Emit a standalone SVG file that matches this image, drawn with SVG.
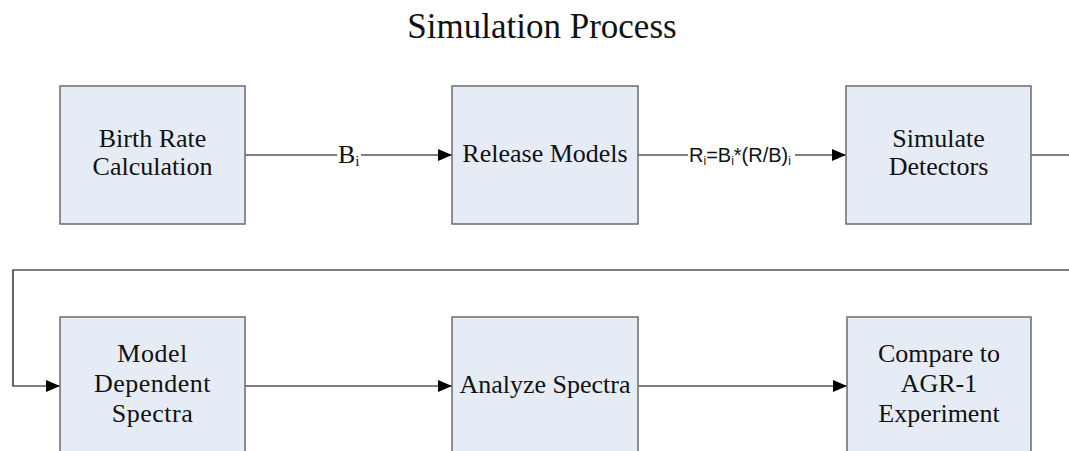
<svg xmlns="http://www.w3.org/2000/svg" width="1069" height="451" viewBox="0 0 1069 451">
<style>
.box{fill:#e6ecf6;stroke:#6b6b6b;stroke-width:1.5}
.t{font-family:"Liberation Serif","Times New Roman",serif;font-size:26px;fill:#111;text-anchor:middle}
.title{font-family:"Liberation Serif","Times New Roman",serif;font-size:35px;fill:#111;text-anchor:middle}
.lab{font-family:"Liberation Sans",Arial,sans-serif;font-size:20px;fill:#111}
.ln{fill:none;stroke:#000;stroke-width:1.2}
</style>
<defs>
<marker id="ah" markerWidth="14" markerHeight="12" refX="14" refY="6" orient="auto" markerUnits="userSpaceOnUse">
<path d="M0,0 L14,6 L0,12 Z" fill="#000"/>
</marker>
</defs>
<rect width="1069" height="451" fill="#fff"/>
<text class="title" x="542" y="38">Simulation Process</text>
<g id="connectors">
<path class="ln" d="M245,155 H452" marker-end="url(#ah)"/>
<path class="ln" d="M638,155 H846" marker-end="url(#ah)"/>
<path class="ln" d="M1031,155 H1080 V270 H13 V386 H60" marker-end="url(#ah)"/>
<path class="ln" d="M245,386 H452" marker-end="url(#ah)"/>
<path class="ln" d="M638,386 H847" marker-end="url(#ah)"/>
<rect x="337" y="144" width="24" height="22" fill="#fff"/>
<text x="338" y="163" font-family="Liberation Serif, serif" font-size="26" fill="#111">B<tspan font-size="15" dy="3">i</tspan></text>
<rect x="688" y="144" width="107" height="22" fill="#fff"/>
<text class="lab" x="689" y="162">R<tspan font-size="12" dy="3">i</tspan><tspan dy="-3">=B</tspan><tspan font-size="12" dy="3">i</tspan><tspan dy="-3">*(R/B)</tspan><tspan font-size="12" dy="3">i</tspan></text>
</g>
<g id="birth">
<rect class="box" x="60" y="86" width="185" height="138"/>
<text class="t" x="152.5" y="147">Birth Rate</text>
<text class="t" x="152.5" y="175">Calculation</text>
</g>
<g id="release">
<rect class="box" x="452" y="86" width="186" height="138"/>
<text class="t" x="545" y="162">Release Models</text>
</g>
<g id="simulate">
<rect class="box" x="846" y="86" width="185" height="138"/>
<text class="t" x="938.5" y="147">Simulate</text>
<text class="t" x="938.5" y="175">Detectors</text>
</g>
<g id="model">
<rect class="box" x="60" y="317" width="185" height="138"/>
<text class="t" x="152.5" y="362" letter-spacing="0.5">Model</text>
<text class="t" x="152.5" y="392" letter-spacing="0.5">Dependent</text>
<text class="t" x="152.5" y="422" letter-spacing="0.5">Spectra</text>
</g>
<g id="analyze">
<rect class="box" x="452" y="317" width="186" height="138"/>
<text class="t" x="545" y="393">Analyze Spectra</text>
</g>
<g id="compare">
<rect class="box" x="847" y="317" width="184" height="138"/>
<text class="t" x="939" y="362">Compare to</text>
<text class="t" x="939" y="392">AGR-1</text>
<text class="t" x="939" y="422">Experiment</text>
</g>
</svg>
